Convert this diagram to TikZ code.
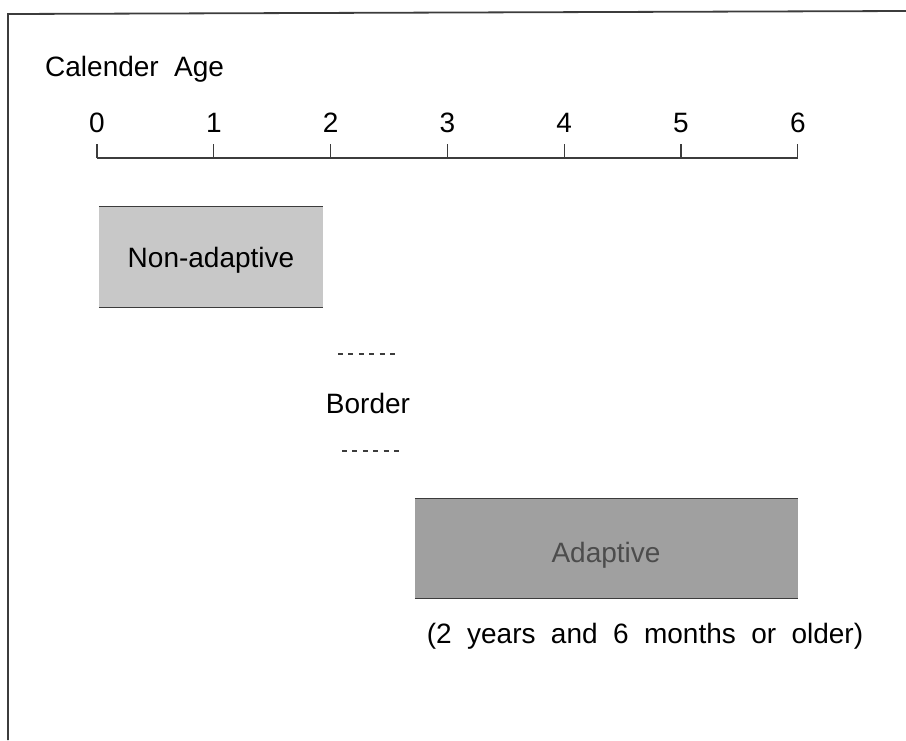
\documentclass[tikz,border=0pt]{standalone}
\usepackage{fontspec}
\setmainfont{Liberation Sans}
\usepackage{xcolor}
\usetikzlibrary{positioning}
\definecolor{lightbox}{RGB}{200,200,200}
\definecolor{darkbox}{RGB}{160,160,160}
\definecolor{edgegray}{RGB}{60,60,60}
\newcommand\ageunit{116.8}

\begin{document}
\begin{tikzpicture}[x=1pt,y=-1pt,
font={\fontsize{28}{34}\selectfont\spaceskip=0.55em},
agebox/.style={inner sep=0pt,text height=20pt,text depth=0pt},
agedash/.style={edgegray,line width=1.2pt,dash pattern=on 5pt off 5.4pt}]
\useasboundingbox (0,0) rectangle (906,740);

%frame (open at right and bottom)
\draw[edgegray,line width=1.8pt] (8,740) -- (8,14) -- (906,11);

%----------axis
\node[anchor=base west,inner sep=0pt] (title) at (45,76) {Calender Age};
\foreach \x in {0,...,6}{%
\coordinate (t\x) at (97+\ageunit*\x,158);
\node[anchor=base,inner sep=0pt] (d\x) at (97+\ageunit*\x,132) {\x};%
}
\draw[edgegray,line width=1.3pt] (t0) -- (t6);
\foreach \x in {0,...,6}{%
\draw[edgegray,line width=1.3pt] (t\x) -- ++(0,-14);
}

%----------non-adaptive
\node[agebox,fill=lightbox,minimum width=224pt,minimum height=100pt]
 (nonadapt) at (211,257) {Non-adaptive};
\draw[edgegray,line width=1.2pt] (nonadapt.north west) -- (nonadapt.north east)
 (nonadapt.south west) -- (nonadapt.south east);

%----------border
\coordinate (b1) at (338,354);
\coordinate (b2) at (396,354);
\node[agebox] (border) at (368,403) {Border};
\coordinate (b3) at (342,451);
\coordinate (b4) at (400,451);
\draw[agedash] (b1) -- (b2);
\draw[agedash] (b3) -- (b4);

%----------adaptive
\node[fill=darkbox,inner sep=0pt,minimum width=383pt,minimum height=99pt]
 (adapt) at (606.5,548.5) {};
\node[agebox,text=black!70] (adapttext) at (606,552) {Adaptive};
\draw[edgegray,line width=1.2pt] (adapt.north west) -- (adapt.north east)
 (adapt.south west) -- (adapt.south east);
\node[anchor=base,inner sep=0pt] (older) at (645,643) {(2 years and 6 months or older)};

\end{tikzpicture}
\end{document}
